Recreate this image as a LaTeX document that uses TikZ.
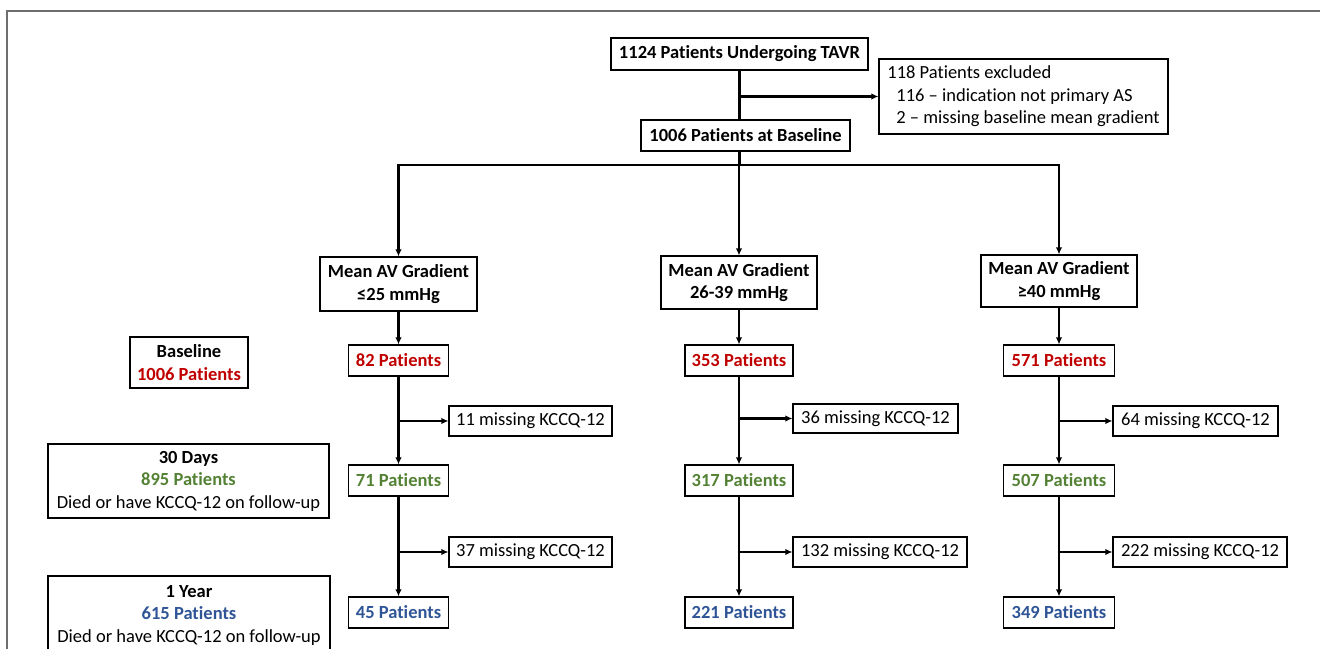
\documentclass[tikz,border=0pt]{standalone}
\usepackage{fontspec}
\setmainfont{Carlito}[Ligatures={NoCommon}]
\usetikzlibrary{arrows.meta}
\definecolor{cred}{HTML}{C00000}
\definecolor{cgreen}{HTML}{548235}
\definecolor{cblue}{HTML}{2F5597}
\definecolor{frame}{HTML}{6E6E6E}
\begin{document}
\begin{tikzpicture}[x=1pt,y=-1pt,
  box/.style={draw, line width=1.2pt, inner sep=0pt, align=center, font=\fontsize{18.5}{22.5}\selectfont},
  bbox/.style={box, font=\fontsize{18.5}{22.5}\selectfont\bfseries},
  conn/.style={line width=2.4pt},
  arr/.style={line width=2.4pt, -{Latex[length=7pt,width=6.5pt]}}]
\useasboundingbox (0,0) rectangle (1320,648);
\clip (0,0) rectangle (1320,648);
\draw[frame, line width=1.5pt] (1325,11) -- (7,11) -- (7,655);
% top
\node[bbox, minimum width=257, minimum height=32] (top) at (739.5,54) {1124 Patients Undergoing TAVR};
\node[box, minimum width=289, minimum height=75, align=left] (excl) at (1023.5,96.5)
  {118 Patients excluded\\\hspace*{9pt}116 -- indication not primary AS\\\hspace*{9pt}2 -- missing baseline mean gradient};
\node[bbox, minimum width=209, minimum height=31] (base) at (745.5,135.5) {1006 Patients at Baseline};
% gradient boxes
\node[bbox, minimum width=157, minimum height=54] (g1) at (398.5,284) {Mean AV Gradient\\≤25 mmHg};
\node[bbox, minimum width=156, minimum height=53] (g2) at (739,282.5) {Mean AV Gradient\\26-39 mmHg};
\node[bbox, minimum width=156, minimum height=52] (g3) at (1059,281) {Mean AV Gradient\\≥40 mmHg};
% left labels
\node[bbox, minimum width=118, minimum height=51] (bl) at (189,362.5) {Baseline\\\textcolor{cred}{1006 Patients}};
\node[box, minimum width=281, minimum height=74] (d30) at (188.5,481) {\textbf{30 Days}\\\textbf{\textcolor{cgreen}{895 Patients}}\\Died or have KCCQ-12 on follow-up};
\node[box, minimum width=282, minimum height=78] (y1) at (189,615) {\textbf{1 Year}\\\textbf{\textcolor{cblue}{615 Patients}}\\Died or have KCCQ-12 on follow-up};
% row 1
\node[bbox, text=cred, minimum width=100, minimum height=31] (p11) at (398.5,360.5) {82 Patients};
\node[bbox, text=cred, minimum width=108, minimum height=31] (p21) at (739,360.5) {353 Patients};
\node[bbox, text=cred, minimum width=111, minimum height=31] (p31) at (1059,360.5) {571 Patients};
% missing 1
\node[box, minimum width=163, minimum height=30] (m11) at (530.5,421) {11 missing KCCQ-12};
\node[box, minimum width=165, minimum height=29] (m21) at (875.5,418.5) {36 missing KCCQ-12};
\node[box, minimum width=165, minimum height=30] (m31) at (1195.5,421) {64 missing KCCQ-12};
% row 2
\node[bbox, text=cgreen, minimum width=100, minimum height=31] (p12) at (398.5,480.5) {71 Patients};
\node[bbox, text=cgreen, minimum width=108, minimum height=31] (p22) at (739,480.5) {317 Patients};
\node[bbox, text=cgreen, minimum width=111, minimum height=31] (p32) at (1059,480.5) {507 Patients};
% missing 2
\node[box, minimum width=163, minimum height=30] (m12) at (530.5,552) {37 missing KCCQ-12};
\node[box, minimum width=174, minimum height=30] (m22) at (880,552) {132 missing KCCQ-12};
\node[box, minimum width=174, minimum height=30] (m32) at (1200,552) {222 missing KCCQ-12};
% row 3
\node[bbox, text=cblue, minimum width=100, minimum height=31] (p13) at (398.5,612.5) {45 Patients};
\node[bbox, text=cblue, minimum width=108, minimum height=31] (p23) at (739,612.5) {221 Patients};
\node[bbox, text=cblue, minimum width=111, minimum height=31] (p33) at (1059,612.5) {349 Patients};
% connectors top
\coordinate (bus) at (739.5,165);
\draw[conn] (top.south) -- (top.south |- base.north);
\draw[arr] (top.south |- excl.west) -- (excl.west);
\draw[conn] (top.south |- base.south) -- (bus);
\draw[arr] (bus) -| (g1.north);
\draw[arr] (bus) -| (g3.north);
\draw[arr] (bus) -- (bus -| g2.north) -- (g2.north);
% columns
\foreach \c in {1,2,3}{
  \draw[arr] (g\c.south) -- (p\c1.north);
  \draw[arr] (p\c1.south) -- (p\c2.north);
  \draw[arr] (p\c2.south) -- (p\c3.north);
  \draw[arr] (p\c1.south |- m\c1.west) -- (m\c1.west);
  \draw[arr] (p\c2.south |- m\c2.west) -- (m\c2.west);
}
\end{tikzpicture}
\end{document}
